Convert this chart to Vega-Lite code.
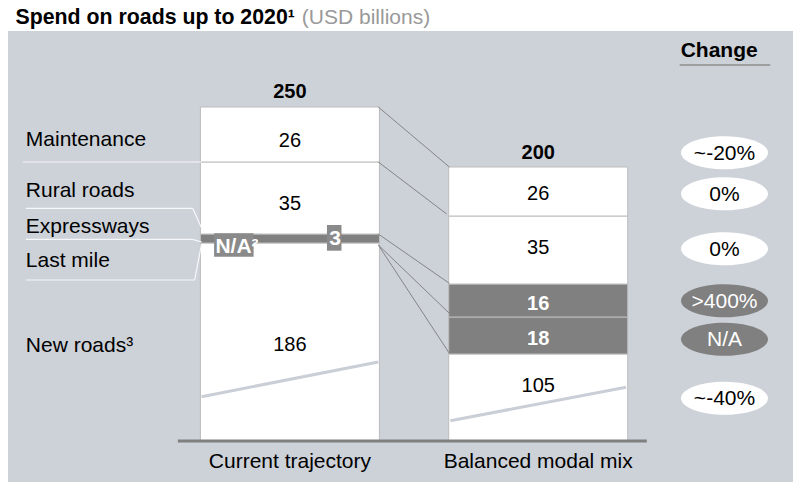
{
  "$schema": "https://vega.github.io/schema/vega-lite/v6.json",
  "width": 785,
  "height": 451,
  "autosize": {"type": "none"},
  "padding": {"left": 8, "top": 31, "right": 0, "bottom": 0},
  "background": "#ffffff",
  "view": {"fill": "#CDD1D8", "stroke": null},
  "config": {"font": "Liberation Sans"},
  "datasets": {
    "segments": [
      {"scenario": "Current trajectory", "col": 1, "segment": "New roads", "start": 0, "end": 148.2, "shade": "light", "value": "186", "labelY": 67.37},
      {"scenario": "Current trajectory", "col": 1, "segment": "Expressways / last mile", "start": 148.2, "end": 154.94, "shade": "dark", "value": null, "labelY": null},
      {"scenario": "Current trajectory", "col": 1, "segment": "Rural roads", "start": 154.94, "end": 208.83, "shade": "light", "value": "35", "labelY": 172.9},
      {"scenario": "Current trajectory", "col": 1, "segment": "Maintenance", "start": 208.83, "end": 250, "shade": "light", "value": "26", "labelY": 220.28},
      {"scenario": "Balanced modal mix", "col": 2, "segment": "New roads", "start": 0, "end": 65.12, "shade": "light", "value": "105", "labelY": 36.9},
      {"scenario": "Balanced modal mix", "col": 2, "segment": "Last mile", "start": 65.12, "end": 92.81, "shade": "dark", "value": "18", "labelY": 71.86},
      {"scenario": "Balanced modal mix", "col": 2, "segment": "Expressways", "start": 92.81, "end": 117.51, "shade": "dark", "value": "16", "labelY": 98.05},
      {"scenario": "Balanced modal mix", "col": 2, "segment": "Rural roads", "start": 117.51, "end": 168.41, "shade": "light", "value": "35", "labelY": 139.97},
      {"scenario": "Balanced modal mix", "col": 2, "segment": "Maintenance", "start": 168.41, "end": 205.09, "shade": "light", "value": "26", "labelY": 180.39}
    ],
    "scenarios": [
      {"scenario": "Current trajectory", "col": 1, "total": "250", "totalY": 256.74, "nameY": -20.21},
      {"scenario": "Balanced modal mix", "col": 2, "total": "200", "totalY": 211.08, "nameY": -20.21}
    ],
    "rowLabels": [
      {"label": "Maintenance", "y": 221.03},
      {"label": "Rural roads", "y": 182.63},
      {"label": "Expressways", "y": 155.91},
      {"label": "Last mile", "y": 129.87},
      {"label": "New roads³", "y": 66.84}
    ],
    "changes": [
      {"item": "Total", "change": "~-20%", "shade": "light", "y": 215.79},
      {"item": "Maintenance", "change": "0%", "shade": "light", "y": 185.03},
      {"item": "Rural roads", "change": "0%", "shade": "light", "y": 143.86},
      {"item": "Expressways", "change": ">400%", "shade": "dark", "y": 104.94},
      {"item": "Last mile", "change": "N/A", "shade": "dark", "y": 76.12},
      {"item": "New roads", "change": "~-40%", "shade": "light", "y": 31.96}
    ],
    "connectors": [
      {"x": 1.3559, "y": 250, "x2": 1.6421, "y2": 205.09},
      {"x": 1.3559, "y": 208.83, "x2": 1.6314, "y2": 169.91},
      {"x": 1.3559, "y": 154.94, "x2": 1.6421, "y2": 118.04},
      {"x": 1.3559, "y": 146.71, "x2": 1.6421, "y2": 95.58},
      {"x": 1.3559, "y": 146.71, "x2": 1.6421, "y2": 65.64}
    ],
    "guides": [
      {"x": -0.0755, "y": 208.83, "x2": 0.6441, "y2": 208.83},
      {"x": -0.0636, "y": 174.18, "x2": 0.6083, "y2": 174.18},
      {"x": 0.6083, "y": 174.18, "x2": 0.6441, "y2": 159.43},
      {"x": -0.0636, "y": 150.97, "x2": 0.6083, "y2": 150.97},
      {"x": 0.6083, "y": 150.97, "x2": 0.6441, "y2": 148.95},
      {"x": -0.0636, "y": 120.51, "x2": 0.6163, "y2": 120.51},
      {"x": 0.6163, "y": 120.51, "x2": 0.6441, "y2": 147.46}
    ],
    "breaks": [
      {"x": 0.6441, "y": 33.16, "x2": 1.3559, "y2": 59.13},
      {"x": 1.6461, "y": 15.19, "x2": 2.3539, "y2": 40.19}
    ],
    "baseline": [{"x": 0.5487, "x2": 2.4374, "y": 0}],
    "underline": [{"x": 2.5698, "x2": 2.9344, "y": 281.44}],
    "boxes": [
      {"label": "N/A²", "x": 0.6946, "x2": 0.8537, "y": 137.95, "y2": 155.46, "tx": 0.6998, "ty": 140.72},
      {"label": "3", "x": 1.1491, "x2": 1.2076, "y": 142.44, "y2": 161.68, "tx": 1.1583, "ty": 146.71}
    ],
    "title": [{"text": "Spend on roads up to 2020¹", "x": -0.105, "y": 312.13}],
    "headings": [{"text": "Change", "x": 2.5738, "y": 287.65}],
    "unit": [{"text": "(USD billions)", "x": 1.048, "y": 312.13}]
  },
  "layer": [
    {
      "data": {"name": "segments"},
      "mark": {"type": "bar", "width": 179, "stroke": "#bdbdbd", "strokeWidth": 1},
      "encoding": {
        "x": {"field": "col", "type": "quantitative", "scale": {"type": "linear", "domain": [-0.1153, 3.006], "nice": false, "zero": false}, "axis": {"orient": "top", "domain": true, "domainColor": "#7f7f7f", "domainWidth": 3, "ticks": false, "labels": false, "grid": false, "title": null}},
        "y": {"field": "end", "type": "quantitative", "scale": {"type": "linear", "domain": [-30.69, 306.89], "nice": false, "zero": false}, "axis": null},
        "y2": {"field": "start"},
        "fill": {"field": "shade", "type": "nominal", "scale": {"domain": ["light", "dark"], "range": ["#ffffff", "#808080"]}, "legend": null}
      }
    },
    {
      "data": {"name": "breaks"},
      "mark": {"type": "rule", "color": "#C9CED7", "strokeWidth": 3},
      "encoding": {
        "x": {"field": "x", "type": "quantitative", "axis": null},
        "x2": {"field": "x2"},
        "y": {"field": "y", "type": "quantitative", "axis": null},
        "y2": {"field": "y2"}
      }
    },
    {
      "data": {"name": "guides"},
      "mark": {"type": "rule", "color": "#f7f8fa", "strokeWidth": 1.2},
      "encoding": {
        "x": {"field": "x", "type": "quantitative", "axis": null},
        "x2": {"field": "x2"},
        "y": {"field": "y", "type": "quantitative", "axis": null},
        "y2": {"field": "y2"}
      }
    },
    {
      "data": {"name": "connectors"},
      "mark": {"type": "rule", "color": "#858585", "strokeWidth": 1},
      "encoding": {
        "x": {"field": "x", "type": "quantitative", "axis": null},
        "x2": {"field": "x2"},
        "y": {"field": "y", "type": "quantitative", "axis": null},
        "y2": {"field": "y2"}
      }
    },
    {
      "data": {"name": "baseline"},
      "mark": {"type": "rule", "color": "#808080", "strokeWidth": 3},
      "encoding": {
        "x": {"field": "x", "type": "quantitative", "axis": null},
        "x2": {"field": "x2"},
        "y": {"field": "y", "type": "quantitative", "axis": null}
      }
    },
    {
      "data": {"name": "underline"},
      "mark": {"type": "rule", "color": "#8c8c8c", "strokeWidth": 1.5},
      "encoding": {
        "x": {"field": "x", "type": "quantitative", "axis": null},
        "x2": {"field": "x2"},
        "y": {"field": "y", "type": "quantitative", "axis": null}
      }
    },
    {
      "data": {"name": "boxes"},
      "mark": {"type": "rect", "color": "#8a8a8a"},
      "encoding": {
        "x": {"field": "x", "type": "quantitative", "axis": null},
        "x2": {"field": "x2"},
        "y": {"field": "y", "type": "quantitative", "axis": null},
        "y2": {"field": "y2"}
      }
    },
    {
      "data": {"name": "boxes"},
      "mark": {"type": "text", "align": "left", "baseline": "alphabetic", "fontSize": 21, "fontWeight": "bold", "color": "#ffffff"},
      "encoding": {
        "x": {"field": "tx", "type": "quantitative", "axis": null},
        "y": {"field": "ty", "type": "quantitative", "axis": null},
        "text": {"field": "label"}
      }
    },
    {
      "data": {"name": "segments"},
      "transform": [{"filter": "datum.shade == 'light' && isValid(datum.value)"}],
      "mark": {"type": "text", "align": "center", "baseline": "alphabetic", "fontSize": 20, "color": "#000000"},
      "encoding": {
        "x": {"field": "col", "type": "quantitative", "axis": null},
        "y": {"field": "labelY", "type": "quantitative", "axis": null},
        "text": {"field": "value"}
      }
    },
    {
      "data": {"name": "segments"},
      "transform": [{"filter": "datum.shade == 'dark' && isValid(datum.value)"}],
      "mark": {"type": "text", "align": "center", "baseline": "alphabetic", "fontSize": 20, "fontWeight": "bold", "color": "#ffffff"},
      "encoding": {
        "x": {"field": "col", "type": "quantitative", "axis": null},
        "y": {"field": "labelY", "type": "quantitative", "axis": null},
        "text": {"field": "value"}
      }
    },
    {
      "data": {"name": "scenarios"},
      "mark": {"type": "text", "align": "center", "baseline": "alphabetic", "fontSize": 20, "fontWeight": "bold", "color": "#000000"},
      "encoding": {
        "x": {"field": "col", "type": "quantitative", "axis": null},
        "y": {"field": "totalY", "type": "quantitative", "axis": null},
        "text": {"field": "total"}
      }
    },
    {
      "data": {"name": "scenarios"},
      "mark": {"type": "text", "align": "center", "baseline": "alphabetic", "fontSize": 21, "color": "#000000"},
      "encoding": {
        "x": {"field": "col", "type": "quantitative", "axis": null},
        "y": {"field": "nameY", "type": "quantitative", "axis": null},
        "text": {"field": "scenario"}
      }
    },
    {
      "data": {"name": "rowLabels"},
      "mark": {"type": "text", "align": "left", "baseline": "alphabetic", "fontSize": 21, "color": "#000000"},
      "encoding": {
        "x": {"datum": -0.0636, "type": "quantitative", "axis": null},
        "y": {"field": "y", "type": "quantitative", "axis": null},
        "text": {"field": "label"}
      }
    },
    {
      "data": {"name": "title"},
      "mark": {"type": "text", "align": "left", "baseline": "alphabetic", "fontSize": 21.3, "fontWeight": "bold", "color": "#000000"},
      "encoding": {
        "x": {"field": "x", "type": "quantitative", "axis": null},
        "y": {"field": "y", "type": "quantitative", "axis": null},
        "text": {"field": "text"}
      }
    },
    {
      "data": {"name": "headings"},
      "mark": {"type": "text", "align": "left", "baseline": "alphabetic", "fontSize": 21, "fontWeight": "bold", "color": "#000000"},
      "encoding": {
        "x": {"field": "x", "type": "quantitative", "axis": null},
        "y": {"field": "y", "type": "quantitative", "axis": null},
        "text": {"field": "text"}
      }
    },
    {
      "data": {"name": "unit"},
      "mark": {"type": "text", "align": "left", "baseline": "alphabetic", "fontSize": 21, "color": "#999999"},
      "encoding": {
        "x": {"field": "x", "type": "quantitative", "axis": null},
        "y": {"field": "y", "type": "quantitative", "axis": null},
        "text": {"field": "text"}
      }
    },
    {
      "data": {"name": "changes"},
      "mark": {"type": "point", "shape": "M-1,0C-1,-0.2093,-0.5523,-0.379,0,-0.379C0.5523,-0.379,1,-0.2093,1,0C1,0.2093,0.5523,0.379,0,0.379C-0.5523,0.379,-1,0.2093,-1,0Z", "size": 7569, "filled": true, "opacity": 1, "strokeWidth": 0},
      "encoding": {
        "x": {"datum": 2.7503, "type": "quantitative", "axis": null},
        "y": {"field": "y", "type": "quantitative", "axis": null},
        "fill": {"field": "shade", "type": "nominal", "legend": null}
      }
    },
    {
      "data": {"name": "changes"},
      "mark": {"type": "text", "align": "center", "baseline": "middle", "dy": 1, "fontSize": 21},
      "encoding": {
        "x": {"datum": 2.7503, "type": "quantitative", "axis": null},
        "y": {"field": "y", "type": "quantitative", "axis": null},
        "text": {"field": "change"},
        "color": {"field": "shade", "type": "nominal", "scale": {"domain": ["light", "dark"], "range": ["#000000", "#ffffff"]}, "legend": null}
      }
    }
  ]
}
